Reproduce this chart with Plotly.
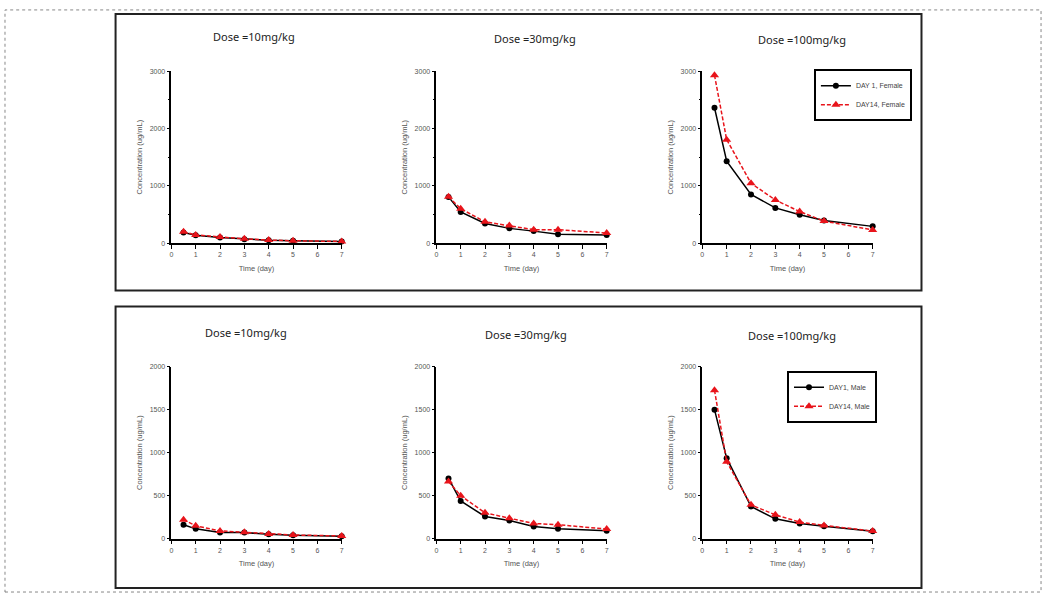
import plotly.graph_objects as go

W, H = 1052, 597

time_days = [0.5, 1, 2, 3, 4, 5, 7]
dose_titles = ["Dose =10mg/kg", "Dose =30mg/kg", "Dose =100mg/kg"]

# Female (top row)
female_day1_10 = [185, 140, 100, 70, 50, 40, 27]
female_day14_10 = [201, 144, 109, 75, 55, 42, 30]
female_day1_30 = [807, 544, 344, 258, 210, 155, 143]
female_day14_30 = [810, 601, 372, 309, 235, 235, 177]
female_day1_100 = [2362, 1431, 851, 615, 494, 397, 293]
female_day14_100 = [2931, 1805, 1046, 753, 552, 385, 230]

# Male (bottom row)
male_day1_10 = [161, 114, 71, 71, 51, 39, 28]
male_day14_10 = [220, 150, 90, 75, 55, 43, 31]
male_day1_30 = [700, 438, 258, 212, 142, 115, 92]
male_day14_30 = [665, 500, 300, 238, 177, 162, 112]
male_day1_100 = [1500, 936, 374, 231, 177, 143, 85]
male_day14_100 = [1727, 894, 393, 277, 193, 154, 89]

female_legend = ["DAY 1, Female", "DAY14, Female"]
male_legend = ["DAY1, Male", "DAY14, Male"]

x_ticks = [0, 1, 2, 3, 4, 5, 6, 7]
top_yticks = [0, 1000, 2000, 3000]
bottom_yticks = [0, 500, 1000, 1500, 2000]

def px(x):
    return x / W

def py(y):
    return 1 - y / H

x_px = [(170, 341), (436, 607), (703, 874)]
top_y_px = (242, 68)
bot_y_px = (541, 367)

fig = go.Figure()

tick_font = dict(family="Liberation Sans, Arial", size=7, color="#555555")
title_font = dict(family="Liberation Sans, Arial", size=7.5, color="#555555")

female_sets = [(female_day1_10, female_day14_10), (female_day1_30, female_day14_30), (female_day1_100, female_day14_100)]
male_sets = [(male_day1_10, male_day14_10), (male_day1_30, male_day14_30), (male_day1_100, male_day14_100)]

layout = {}
ax = 0
for row, (sets, ypx, ymax, yticks, names, legname) in enumerate([
        (female_sets, top_y_px, 3000, top_yticks, female_legend, "legend"),
        (male_sets, bot_y_px, 2000, bottom_yticks, male_legend, "legend2")]):
    for col in range(3):
        ax += 1
        xa = "x" if ax == 1 else f"x{ax}"
        ya = "y" if ax == 1 else f"y{ax}"
        d1, d14 = sets[col]
        show = (col == 2)
        fig.add_trace(go.Scatter(
            x=time_days, y=d1, xaxis=xa, yaxis=ya, name=names[0],
            mode="lines+markers", line=dict(color="black", width=1.5),
            marker=dict(symbol="circle", size=6, color="black"),
            showlegend=show, legend=legname, cliponaxis=False))
        fig.add_trace(go.Scatter(
            x=time_days, y=d14, xaxis=xa, yaxis=ya, name=names[1],
            mode="lines+markers", line=dict(color="#e8141b", width=1.5, dash="4px,2px"),
            marker=dict(symbol="triangle-up", size=8, color="#e8141b"),
            showlegend=show, legend=legname, cliponaxis=False))
        xd = [px(x_px[col][0]), px(x_px[col][1])]
        yd = [py(ypx[0]), py(ypx[1])]
        layout[f"xaxis{'' if ax == 1 else ax}"] = dict(
            domain=xd, range=[0, 7], anchor=ya, tickvals=x_ticks,
            showgrid=False, zeroline=False, showline=True, linecolor="black", linewidth=1.5,
            ticks="outside", ticklen=4, tickcolor="black", tickwidth=1,
            tickfont=tick_font, title=dict(text="Time (day)", font=title_font, standoff=8))
        layout[f"yaxis{'' if ax == 1 else ax}"] = dict(
            domain=yd, range=[0, ymax], anchor=xa, tickvals=yticks,
            showgrid=False, zeroline=False, showline=True, linecolor="black", linewidth=1.5,
            ticks="outside", ticklen=3, tickcolor="black", tickwidth=1,
            minor=dict(dtick=500, ticks="outside", ticklen=2, tickcolor="black") if row == 0 else None,
            tickfont=tick_font, title=dict(text="Concentration (ug/mL)", font=title_font, standoff=6))

annotations = []
title_pos = [(253, 33), (535, 35), (803, 36), (245, 332), (526, 334), (793, 335)]
for i, (tx, ty) in enumerate(title_pos):
    annotations.append(dict(
        text=dose_titles[i % 3], x=px(tx), y=py(ty), xref="paper", yref="paper",
        showarrow=False, xanchor="center", yanchor="middle",
        font=dict(family="Noto Sans, DejaVu Sans", size=11, color="#222222")))

shapes = [
    dict(type="rect", xref="paper", yref="paper", x0=px(3), x1=px(1043), y0=py(595), y1=py(6),
         line=dict(color="#888888", width=1, dash="dot")),
    dict(type="rect", xref="paper", yref="paper", x0=px(114), x1=px(923), y0=py(290), y1=py(10),
         line=dict(color="#222222", width=2)),
    dict(type="rect", xref="paper", yref="paper", x0=px(114), x1=px(923), y0=py(591), y1=py(306),
         line=dict(color="#222222", width=2)),
]

legend_font = dict(family="Liberation Sans, Arial", size=7, color="#444444")
fig.update_layout(
    width=W, height=H,
    margin=dict(l=0, r=0, t=0, b=0),
    paper_bgcolor="white", plot_bgcolor="white",
    showlegend=True,
    legend=dict(x=px(815), y=py(66), xanchor="left", yanchor="top", xref="paper", yref="paper",
                bordercolor="black", borderwidth=2, bgcolor="white", font=legend_font,
                itemwidth=30, tracegroupgap=0),
    legend2=dict(x=px(788), y=py(371), xanchor="left", yanchor="top", xref="paper", yref="paper",
                 bordercolor="black", borderwidth=2, bgcolor="white", font=legend_font,
                 itemwidth=30, tracegroupgap=0),
    annotations=annotations, shapes=shapes,
    **layout)

fig.write_html("out.html", config={"displayModeBar": False},
               post_script="document.body.style.margin='0';document.body.style.padding='0';")
